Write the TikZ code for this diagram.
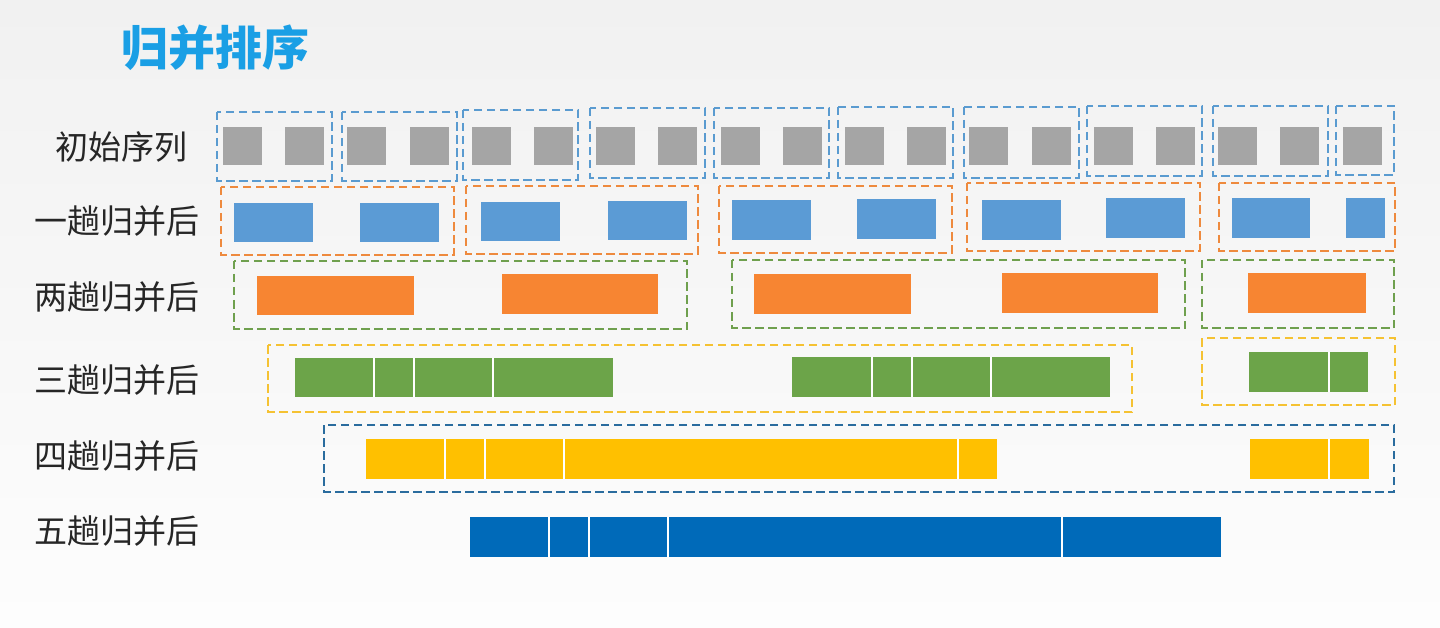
\documentclass[tikz,border=0pt]{standalone}
\usepackage{fontspec}
\newfontfamily\cjk{Noto Sans CJK SC}
\definecolor{bgtop}{HTML}{F1F1F1}
\definecolor{bgbot}{HTML}{FDFDFD}
\definecolor{ttl}{HTML}{1A9FE5}
\definecolor{cgrey}{HTML}{A5A5A5}
\definecolor{cblue}{HTML}{5B9BD5}
\definecolor{corange}{HTML}{F78532}
\definecolor{cgreen}{HTML}{6CA449}
\definecolor{cyellow}{HTML}{FFC000}
\definecolor{cdblue}{HTML}{006AB9}
\definecolor{dblue}{HTML}{5A9BD0}
\definecolor{dorange}{HTML}{EE8A3E}
\definecolor{dgreen}{HTML}{6FA04E}
\definecolor{dyellow}{HTML}{F5C233}
\definecolor{ddblue}{HTML}{2A6C9E}
\tikzset{
  dbox/.style={draw=#1, line width=2.4pt, dash pattern=on 8.5pt off 4.5pt},
  lbl/.style={font=\cjk\fontsize{33}{33}\selectfont, text=black!85, anchor=center},
  divider/.style={draw=white, line width=1.3pt}
}
\begin{document}
\begin{tikzpicture}[x=1pt,y=-1pt]
\useasboundingbox (0,0) rectangle (1440,628);
\shade[top color=bgtop, bottom color=bgbot] (0,0) rectangle (1440,628);
% title
\node[font=\cjk\bfseries\fontsize{47}{47}\selectfont, text=ttl] (title) at (215,48) {归并排序};
% labels
\node[lbl] (l0) at (121,147) {初始序列};
\node[lbl] (l1) at (117,221) {一趟归并后};
\node[lbl] (l2) at (117,297) {两趟归并后};
\node[lbl] (l3) at (117,380) {三趟归并后};
\node[lbl] (l4) at (117,456) {四趟归并后};
\node[lbl] (l5) at (117,531) {五趟归并后};
% row 0
\foreach \i in {0,...,18} \fill[cgrey] ({223+62.2*\i},127) rectangle +(39,38);
\foreach \a/\b/\c/\d in {217/112/332/181,342/112/457/181,463/110/578/180,590/108/705/178,714/108/829/178,838/107/953/178,964/107/1079/178,1087/106/1202/176,1213/106/1328/176,1336/106/1394/175}
  \draw[dbox=dblue] (\a,\b) rectangle (\c,\d);
% row 1
\foreach \a/\b/\c/\d in {234/203/313/242,360/203/439/242,481/202/560/241,608/201/687/240,732/200/811/240,857/199/936/239,982/200/1061/240,1106/198/1185/238,1232/198/1310/238,1346/198/1385/238}
  \fill[cblue] (\a,\b) rectangle (\c,\d);
\foreach \a/\b/\c/\d in {221/187/454/255,466/186/698/254,719/186/952/253,967/183/1200/251,1219/183/1395/251}
  \draw[dbox=dorange] (\a,\b) rectangle (\c,\d);
% row 2
\foreach \a/\b/\c/\d in {257/276/414/315,502/274/658/314,754/274/911/314,1002/273/1158/313,1248/273/1366/313}
  \fill[corange] (\a,\b) rectangle (\c,\d);
\foreach \a/\b/\c/\d in {234/261/687/329,732/260/1185/328,1202/260/1394/328}
  \draw[dbox=dgreen] (\a,\b) rectangle (\c,\d);
% row 3
\fill[cgreen] (295,358) rectangle (613,397);
\foreach \x in {374,414,493} \draw[divider] (\x,358) -- (\x,397);
\fill[cgreen] (792,357) rectangle (1110,397);
\foreach \x in {872,912,991} \draw[divider] (\x,357) -- (\x,397);
\fill[cgreen] (1249,352) rectangle (1368,392);
\draw[divider] (1329,352) -- (1329,392);
\draw[dbox=dyellow] (268,345) rectangle (1132,412);
\draw[dbox=dyellow] (1202,338) rectangle (1395,405);
% row 4
\fill[cyellow] (366,439) rectangle (997,479);
\foreach \x in {445,485,564,958} \draw[divider] (\x,439) -- (\x,479);
\fill[cyellow] (1250,439) rectangle (1369,479);
\draw[divider] (1329,439) -- (1329,479);
\draw[dbox=ddblue] (324,425) rectangle (1394,492);
% row 5
\fill[cdblue] (470,517) rectangle (1221,557);
\foreach \x in {549,589,668,1062} \draw[divider] (\x,517) -- (\x,557);
\end{tikzpicture}
\end{document}
